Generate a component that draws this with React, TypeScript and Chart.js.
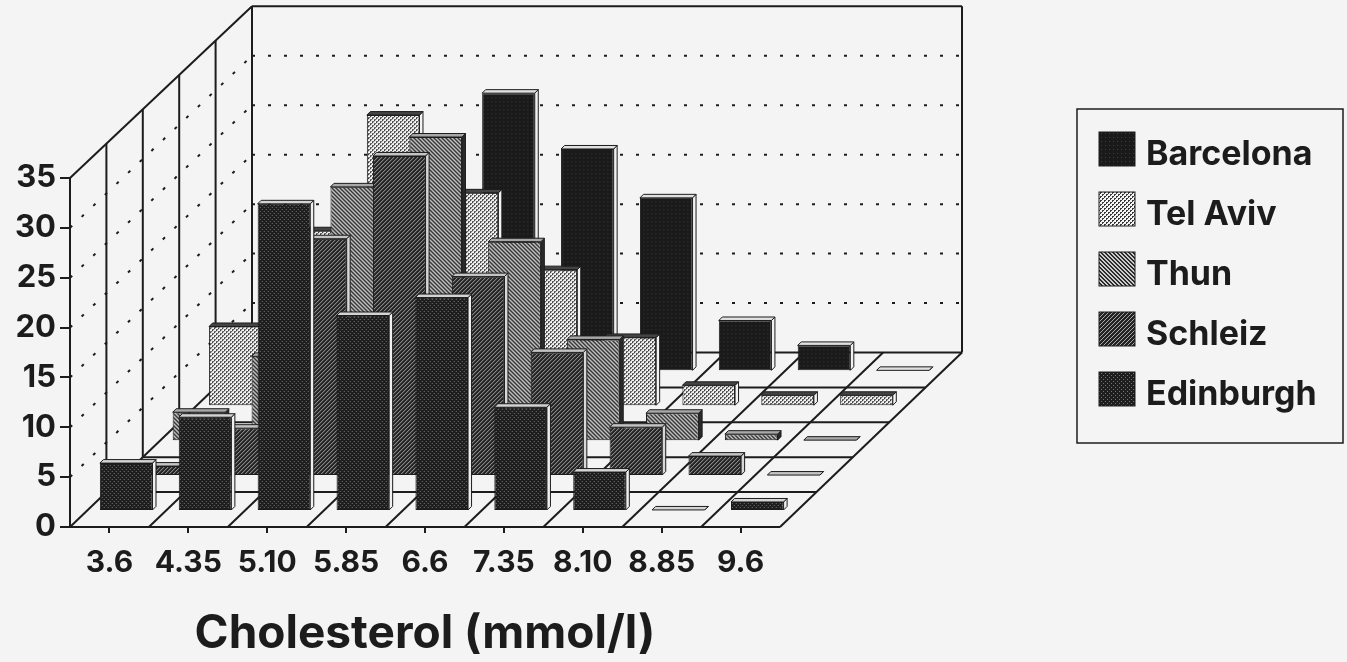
import React, { useEffect, useRef } from "react";
import { Chart, registerables } from "chart.js";

Chart.register(...registerables);

const categories = ["3.6", "4.35", "5.10", "5.85", "6.6", "7.35", "8.10", "8.85", "9.6"];
const seriesNames = ["Barcelona", "Tel Aviv", "Thun", "Schleiz", "Edinburgh"];
const barcelona = [3, 8, 15, 27.9, 22.3, 17.4, 5.1, 2.6, 0.1];
const telAviv = [8, 17.6, 29.2, 21.4, 13.7, 6.9, 2.1, 1.1, 1.1];
const thun = [2.9, 8.5, 25.5, 30.5, 20, 10.2, 2.8, 0.7, 0.1];
const schleiz = [1, 4.8, 23.8, 32.1, 20, 12.4, 4.9, 2, 0.1];
const edinburgh = [4.8, 9.4, 30.8, 19.6, 21.4, 10.4, 3.9, 0.1, 0.9];
const seriesValues = [barcelona, telAviv, thun, schleiz, edinburgh];
const yTicksStep = 5;
const xTitle = "Cholesterol (mmol/l)";

const PAPER = "#f4f4f4";
const INK = "#1c1c1c";
const FONT = "Inter, 'Liberation Sans', sans-serif";
const ROW_DX = 36.4;
const ROW_DY = 34.9;
const ROWS = 5;
const BAR_INSET = 0.46;
const THICK = 3.5;
const BACK_SCALE = 0.992;

// pattern cells: size, background, foreground, dot offsets
function makePattern(size: number, bg: string, fg: string, dots: number[][]) {
  const c = document.createElement("canvas");
  c.width = size;
  c.height = size;
  const x = c.getContext("2d")!;
  x.fillStyle = bg;
  x.fillRect(0, 0, size, size);
  x.fillStyle = fg;
  dots.forEach(([a, b]) => x.fillRect(a, b, 1, 1));
  return x.createPattern(c, "repeat")!;
}

const faceStyles = [
  { top: "#e0e0e0", side: "#f0f0f0" },
  { top: "#444444", side: "#f4f4f4" },
  { top: "#a8a8a8", side: "#2a2a2a" },
  { top: "#c4c4c4", side: "#d8d8d8" },
  { top: "#d4d4d4", side: "#f0f0f0" },
];

const threeD = {
  id: "threeD",
  beforeInit(chart: any) {
    chart.ctx.letterSpacing = "3px";
  },
  afterLayout(chart: any) {
    const l = chart.legend;
    const w = l.width;
    const h = l.height;
    l.left = 1073;
    l.right = 1073 + w;
    l.top = 112;
    l.bottom = 112 + h;
  },
  beforeDraw(chart: any) {
    const { ctx, width, height } = chart;
    ctx.save();
    ctx.fillStyle = PAPER;
    ctx.fillRect(0, 0, width, height);
    ctx.strokeStyle = INK;
    ctx.lineWidth = 1.5;
    ctx.strokeRect(1077, 109, 266, 334);
    // legend swatches, in legend order
    chart.legend.legendItems.forEach((item: any, i: number) => {
      const ds = chart.data.datasets[item.datasetIndex];
      ctx.fillStyle = ds.backgroundColor;
      ctx.fillRect(1099, 132 + i * 60, 36, 34);
      ctx.lineWidth = 1;
      ctx.strokeRect(1099, 132 + i * 60, 36, 34);
    });
    ctx.restore();
  },
  beforeDatasetsDraw(chart: any) {
    const { ctx, scales } = chart;
    const ys = scales.y;
    const left = chart.chartArea.left;
    const right = chart.chartArea.right;
    const y0 = ys.getPixelForValue(0);
    const yMax = ys.getPixelForValue(35);
    const cw = (right - left) / categories.length;
    const bx = ROWS * ROW_DX;
    const by = ROWS * ROW_DY;
    const backY = (y: number) => y0 - by - (y0 - y) * BACK_SCALE;
    const line = (a: number, b: number, c: number, d: number) => {
      ctx.beginPath();
      ctx.moveTo(a, b);
      ctx.lineTo(c, d);
      ctx.stroke();
    };
    ctx.save();
    ctx.strokeStyle = INK;
    ctx.lineWidth = 2;
    // dotted wall lines
    ctx.save();
    ctx.setLineDash([3, 13]);
    for (let v = yTicksStep; v < 35; v += yTicksStep) {
      const y = ys.getPixelForValue(v);
      line(left, y, left + bx, backY(y));
      line(left + bx, backY(y), right + bx, backY(y));
    }
    ctx.restore();
    // wall uprights and edges
    for (let r = 1; r <= ROWS; r++) {
      const topAtRow = yMax + (backY(yMax) - yMax) * (r / ROWS);
      line(left + r * ROW_DX, y0 - r * ROW_DY, left + r * ROW_DX, topAtRow);
    }
    line(left, yMax, left + bx, backY(yMax));
    line(left + bx, backY(yMax), right + bx, backY(yMax));
    line(right + bx, backY(yMax), right + bx, y0 - by);
    // floor
    for (let r = 1; r <= ROWS; r++) {
      line(left + r * ROW_DX, y0 - r * ROW_DY, right + r * ROW_DX, y0 - r * ROW_DY);
    }
    for (let i = 0; i <= categories.length; i++) {
      const x = left + i * cw;
      line(x, y0, x + bx, y0 - by);
    }
    line(left, y0, right, y0);
    ctx.restore();
  },
  beforeDatasetDraw(chart: any, args: any) {
    const row = ROWS - 1 - args.index;
    const { ctx } = chart;
    ctx.save();
    ctx.translate((row + BAR_INSET) * ROW_DX, -(row + BAR_INSET) * ROW_DY);
  },
  afterDatasetDraw(chart: any, args: any) {
    const { ctx } = chart;
    const st = faceStyles[args.index];
    ctx.lineWidth = 1;
    ctx.strokeStyle = INK;
    args.meta.data.forEach((el: any) => {
      const { x, y, base, width } = el.getProps(["x", "y", "base", "width"], true);
      const l = x - width / 2;
      const r = x + width / 2;
      ctx.fillStyle = st.side;
      ctx.beginPath();
      ctx.moveTo(r, y);
      ctx.lineTo(r + THICK, y - THICK);
      ctx.lineTo(r + THICK, base - THICK);
      ctx.lineTo(r, base);
      ctx.closePath();
      ctx.fill();
      ctx.stroke();
      ctx.fillStyle = st.top;
      ctx.beginPath();
      ctx.moveTo(l, y);
      ctx.lineTo(l + THICK, y - THICK);
      ctx.lineTo(r + THICK, y - THICK);
      ctx.lineTo(r, y);
      ctx.closePath();
      ctx.fill();
      ctx.stroke();
    });
    ctx.restore();
  },
};

export default function App() {
  const ref = useRef<HTMLCanvasElement | null>(null);
  useEffect(() => {
    document.body.style.margin = "0";
    document.body.style.background = PAPER;
    const patterns = [
      makePattern(4, "#1a1a1a", "#3c3c3c", [[1, 1]]),
      makePattern(4, "#f4f4f4", "#3a3a3a", [[0, 0], [1, 0], [2, 2], [3, 2], [0, 1], [2, 3]]),
      makePattern(4, "#cccccc", "#2c2c2c", [[0, 0], [1, 1], [2, 2], [3, 3], [1, 0], [2, 1], [3, 2], [0, 3]]),
      makePattern(4, "#242424", "#a8a8a8", [[0, 0], [2, 2], [1, 3], [3, 1]]),
      makePattern(4, "#1e1e1e", "#747474", [[1, 1], [3, 3]]),
    ];
    const chart = new Chart(ref.current!, {
      type: "bar",
      data: {
        labels: categories,
        datasets: seriesNames.map((name, i) => ({
          label: name,
          data: seriesValues[i],
          order: seriesNames.length - 1 - i,
          backgroundColor: patterns[i],
          borderColor: INK,
          borderWidth: 1,
          borderSkipped: false,
          grouped: false,
          barPercentage: 0.667,
          categoryPercentage: 1,
          clip: false,
        })),
      } as any,
      options: {
        responsive: false,
        animation: false,
        devicePixelRatio: 1,
        layout: { padding: { left: 0, top: 178, right: 567, bottom: 0 } },
        scales: {
          x: {
            afterFit(s: any) {
              s.height = 135;
            },
            grid: { drawOnChartArea: false, offset: false, color: INK, lineWidth: 2, tickLength: 6 },
            border: { display: false },
            ticks: {
              color: INK,
              padding: 12,
              maxRotation: 0,
              autoSkip: false,
              font: { family: FONT, size: 30, weight: "bold" },
            },
            title: {
              display: true,
              text: xTitle,
              color: INK,
              padding: { top: 0, bottom: 0 },
              font: { family: FONT, size: 46, weight: "bold" },
            },
          },
          y: {
            min: 0,
            max: 35,
            afterFit(s: any) {
              s.width = 70;
            },
            grid: { drawOnChartArea: false, color: INK, lineWidth: 2, tickLength: 10 },
            border: { color: INK, width: 2 },
            ticks: {
              stepSize: yTicksStep,
              color: INK,
              padding: 4,
              font: { family: FONT, size: 31, weight: "bold" },
            },
          },
        },
        plugins: {
          tooltip: { enabled: false },
          legend: {
            position: "chartArea",
            align: "start",
            reverse: true,
            labels: {
              boxWidth: 30,
              boxHeight: 34,
              padding: 26,
              color: INK,
              font: { family: FONT, size: 34, weight: "bold" },
              generateLabels(chart: any) {
                const base = Chart.defaults.plugins.legend.labels.generateLabels(chart);
                return base.map((it: any) => ({
                  ...it,
                  fillStyle: "rgba(0,0,0,0)",
                  strokeStyle: "rgba(0,0,0,0)",
                  lineWidth: 0,
                }));
              },
            },
          },
        },
      } as any,
      plugins: [threeD as any],
    });
    return () => chart.destroy();
  }, []);
  return (
    <div style={{ position: "fixed", left: 0, top: 0, width: 1347, height: 662 }}>
      <canvas ref={ref} width={1347} height={662} style={{ display: "block" }} />
    </div>
  );
}
